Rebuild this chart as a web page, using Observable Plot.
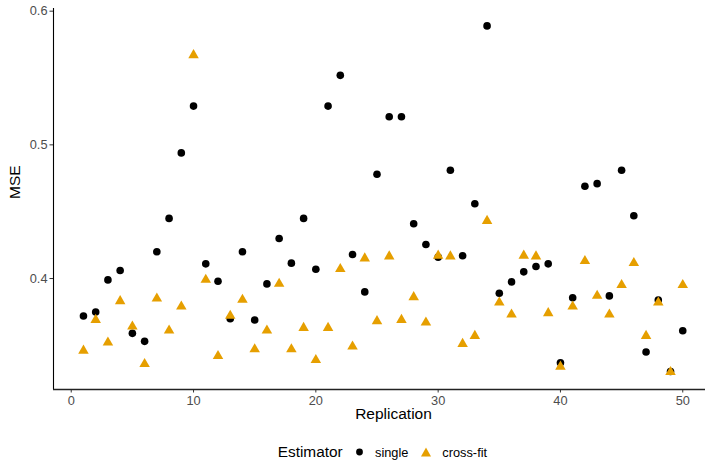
<!DOCTYPE html>
<html><head><meta charset="utf-8">
<script src="https://cdn.jsdelivr.net/npm/d3@7"></script>
<script src="https://cdn.jsdelivr.net/npm/@observablehq/plot@0.6"></script>
<style>
body{margin:0;background:#fff;font-family:"Liberation Sans",Arial,Helvetica,sans-serif;}
#legend{position:relative;height:30px;width:705px;}
#legend span{position:absolute;top:16.5px;transform:translateY(-50%);white-space:nowrap;}
#legend svg{position:absolute;top:16.5px;transform:translateY(-50%);overflow:visible;}
</style></head><body><div id="chart"></div><div id="legend"></div>
<script>
const replication = [1,2,3,4,5,6,7,8,9,10,11,12,13,14,15,16,17,18,19,20,21,22,23,24,25,26,27,28,29,30,31,32,33,34,35,36,37,38,39,40,41,42,43,44,45,46,47,48,49,50];
const single = [0.372,0.375,0.399,0.406,0.359,0.353,0.420,0.445,0.494,0.529,0.411,0.398,0.370,0.420,0.369,0.396,0.430,0.4115,0.445,0.407,0.529,0.552,0.418,0.390,0.478,0.521,0.521,0.441,0.4255,0.416,0.481,0.417,0.456,0.589,0.389,0.3975,0.405,0.409,0.411,0.337,0.3856,0.469,0.471,0.387,0.481,0.447,0.345,0.384,0.3305,0.361];
const crossfit = [0.347,0.370,0.353,0.384,0.365,0.337,0.386,0.362,0.380,0.568,0.400,0.343,0.373,0.385,0.348,0.362,0.397,0.348,0.364,0.340,0.364,0.408,0.350,0.416,0.369,0.4175,0.370,0.387,0.368,0.418,0.4175,0.352,0.358,0.444,0.383,0.374,0.418,0.4175,0.375,0.335,0.380,0.414,0.388,0.374,0.396,0.4125,0.358,0.383,0.331,0.396];
const estimators = ["single","cross-fit"];
const colors = ["#000000","#E69F00"];
const symbols = ["circle","triangle"];
const xTicks = [0,10,20,30,40,50];
const yTicks = [0.4,0.5,0.6];
const xDomain = [-1.45, 51.86];
const yDomain = [0.317, 0.602];

const singleData = single.map((v,i)=>({replication: replication[i], mse: v, estimator: estimators[0]}));
const crossData = crossfit.map((v,i)=>({replication: replication[i], mse: v, estimator: estimators[1]}));

const font = '"Liberation Sans",Arial,Helvetica,sans-serif';
const plot = Plot.plot({
  width: 705, height: 435,
  marginLeft: 53, marginRight: 0, marginTop: 8, marginBottom: 46,
  style: {fontFamily: font, fontSize: "12.8px", color: "#4d4d4d", background: "#fff", overflow: "visible"},
  x: {domain: xDomain},
  y: {domain: yDomain},
  symbol: {domain: estimators, range: symbols},
  color: {domain: estimators, range: colors},
  marks: [
    Plot.axisY({ticks: yTicks, tickSize: 3.5, tickPadding: 2.5, tickFormat: d3.format(".1f"), label: null, stroke: "#333"}),
    Plot.axisX({ticks: xTicks, tickSize: 3.5, tickPadding: 3, label: null, stroke: "#333"}),
    Plot.ruleX([xDomain[0]], {stroke: "black", strokeWidth: 1.1}),
    Plot.ruleY([yDomain[0]], {stroke: "#222", strokeWidth: 1.5}),
    Plot.dot(singleData, {x: "replication", y: "mse", symbol: "estimator", fill: "estimator", r: 3.8, stroke: "none"}),
    Plot.dot(crossData, {x: "replication", y: "mse", symbol: "estimator", fill: "estimator", r: 3.9, stroke: "none", dy: 1.2}),
    Plot.text(["MSE"], {text: d => d, frameAnchor: "left", dx: -38, rotate: -90, fontSize: 15.5, fill: "black"}),
    Plot.text(["Replication"], {text: d => d, frameAnchor: "bottom", dx: 14, dy: 29, fontSize: 15.5, fill: "black"})
  ]
});
document.getElementById("chart").appendChild(plot);

const lg = document.getElementById("legend");
lg.innerHTML = `
<span style="left:277.7px;font-size:15.4px;color:#000">Estimator</span>
<svg style="left:355.5px" width="7" height="7"><circle cx="3.5" cy="3.5" r="3.4" fill="${colors[0]}"/></svg>
<span style="left:375px;font-size:12.8px;color:#000">${estimators[0]}</span>
<svg style="left:421px" width="10" height="9"><path d="M5,0 L10,9 L0,9 Z" fill="${colors[1]}"/></svg>
<span style="left:442.3px;font-size:12.8px;color:#000">${estimators[1]}</span>`;
</script></body></html>
